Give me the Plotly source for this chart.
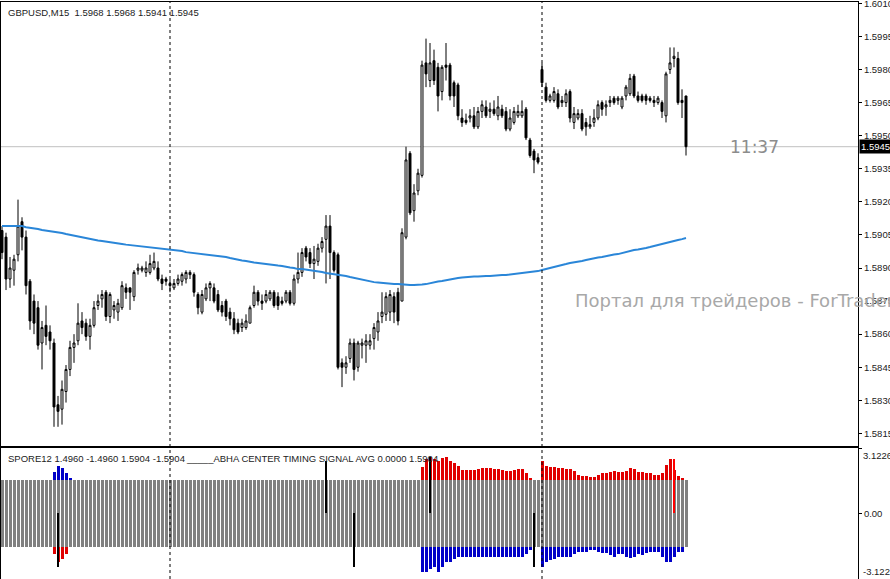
import plotly.graph_objects as go

# ---------------- data ----------------
symbol_header = "GBPUSD,M15  1.5968 1.5968 1.5941 1.5945"
sub_header_1 = "SPORE12 1.4960 -1.4960 1.5904 -1.5904"
sub_header_2 = "_____ABHA CENTER TIMING SIGNAL AVG 0.0000 1.5904"
watermark = "Портал для трейдеров - ForTrader.ru"
timer_text = "11:37"

opens = [
    1.5907, 1.5904, 1.5885, 1.5889, 1.5896, 1.5911, 1.5904, 1.5884, 1.5875, 1.5872,
    1.5856, 1.5864, 1.5861, 1.5856, 1.5828, 1.5826, 1.5834, 1.5844, 1.5854, 1.5857,
    1.5866, 1.5865, 1.5859, 1.5864, 1.5873, 1.5876, 1.5879, 1.5868, 1.5871, 1.5870,
    1.5872, 1.5881, 1.5881, 1.5877, 1.5889, 1.5889, 1.5888, 1.5888, 1.5890, 1.5890,
    1.5885, 1.5885, 1.5883, 1.5881, 1.5883, 1.5884, 1.5885, 1.5887, 1.5887, 1.5878,
    1.5870, 1.5876, 1.5881, 1.5881, 1.5878, 1.5873, 1.5875, 1.5870, 1.5867, 1.5865,
    1.5863, 1.5863, 1.5865, 1.5873, 1.5879, 1.5875, 1.5875, 1.5876, 1.5879, 1.5877,
    1.5875, 1.5875, 1.5879, 1.5874, 1.5885, 1.5888, 1.5899, 1.5897, 1.5892, 1.5893,
    1.5899, 1.5903, 1.5909, 1.5897, 1.5896, 1.5847, 1.5845, 1.5849, 1.5856, 1.5845,
    1.5855, 1.5855, 1.5855, 1.5858, 1.5861, 1.5868, 1.5869, 1.5870, 1.5877, 1.5879,
    1.5875, 1.5904, 1.5942, 1.5916, 1.5925, 1.5932, 1.5983, 1.5975, 1.5984, 1.5981,
    1.5970, 1.5982, 1.5982, 1.5974, 1.5973, 1.5958, 1.5957, 1.5958, 1.5959, 1.5954,
    1.5961, 1.5963, 1.5961, 1.5962, 1.5959, 1.5962, 1.5961, 1.5953, 1.5956, 1.5959,
    1.5959, 1.5962, 1.5948, 1.5943, 1.5940, 1.5980, 1.5972, 1.5966, 1.5966, 1.5969,
    1.5965, 1.5965, 1.5970, 1.5956, 1.5958, 1.5960, 1.5956, 1.5954, 1.5956, 1.5958,
    1.5965, 1.5963, 1.5965, 1.5967, 1.5966, 1.5963, 1.5968, 1.5969, 1.5977, 1.5968,
    1.5968, 1.5968, 1.5967, 1.5966, 1.5965, 1.5965, 1.5959, 1.5980, 1.5985, 1.5985,
    1.5966, 1.5968,
]
highs = [
    1.5909, 1.5906, 1.5895, 1.5896, 1.5921, 1.5913, 1.5907, 1.5885, 1.5878, 1.5875,
    1.5866, 1.5873, 1.5864, 1.5858, 1.5832, 1.5839, 1.5846, 1.5857, 1.5860, 1.5874,
    1.5870, 1.5867, 1.5867, 1.5875, 1.5878, 1.5880, 1.5880, 1.5879, 1.5875, 1.5876,
    1.5884, 1.5883, 1.5881, 1.5889, 1.5892, 1.5891, 1.5893, 1.5896, 1.5897, 1.5893,
    1.5887, 1.5886, 1.5885, 1.5885, 1.5887, 1.5888, 1.5889, 1.5889, 1.5888, 1.5879,
    1.5880, 1.5883, 1.5884, 1.5883, 1.5880, 1.5875, 1.5876, 1.5872, 1.5870, 1.5867,
    1.5867, 1.5869, 1.5873, 1.5882, 1.5880, 1.5878, 1.5880, 1.5880, 1.5880, 1.5879,
    1.5877, 1.5880, 1.5880, 1.5887, 1.5897, 1.5899, 1.5900, 1.5899, 1.5900, 1.5901,
    1.5904, 1.5914, 1.5914, 1.5898, 1.5897, 1.5849, 1.5850, 1.5858, 1.5858, 1.5857,
    1.5858, 1.5860, 1.5860, 1.5865, 1.5870, 1.5879, 1.5879, 1.5880, 1.5879, 1.5881,
    1.5908, 1.5945, 1.5943, 1.5928, 1.5935, 1.5984, 1.5994, 1.5992, 1.5989, 1.5983,
    1.5982, 1.5992, 1.5983, 1.5975, 1.5974, 1.5962, 1.5960, 1.5962, 1.5963, 1.5963,
    1.5966, 1.5966, 1.5965, 1.5966, 1.5968, 1.5964, 1.5963, 1.5962, 1.5963, 1.5964,
    1.5966, 1.5963, 1.5949, 1.5944, 1.5942, 1.5983, 1.5974, 1.5969, 1.5972, 1.5971,
    1.5968, 1.5971, 1.5971, 1.5963, 1.5962, 1.5962, 1.5958, 1.5959, 1.5962, 1.5966,
    1.5966, 1.5966, 1.5968, 1.5968, 1.5968, 1.5968, 1.5973, 1.5978, 1.5978, 1.5970,
    1.5969, 1.5969, 1.5968, 1.5968, 1.5968, 1.5966, 1.5979, 1.5990, 1.5990, 1.5988,
    1.5971, 1.5968,
]
lows = [
    1.5894, 1.5880, 1.5881, 1.5882, 1.5893, 1.5898, 1.5878, 1.5862, 1.5860, 1.5853,
    1.5844, 1.5855, 1.5853, 1.5818, 1.5818, 1.5819, 1.5829, 1.5841, 1.5847, 1.5855,
    1.5860, 1.5857, 1.5853, 1.5863, 1.5871, 1.5872, 1.5866, 1.5865, 1.5867, 1.5866,
    1.5871, 1.5876, 1.5871, 1.5875, 1.5887, 1.5888, 1.5886, 1.5887, 1.5889, 1.5884,
    1.5880, 1.5882, 1.5879, 1.5880, 1.5882, 1.5882, 1.5883, 1.5885, 1.5877, 1.5869,
    1.5869, 1.5875, 1.5875, 1.5874, 1.5870, 1.5868, 1.5866, 1.5864, 1.5860, 1.5860,
    1.5861, 1.5862, 1.5865, 1.5872, 1.5873, 1.5871, 1.5874, 1.5875, 1.5872, 1.5871,
    1.5873, 1.5874, 1.5873, 1.5873, 1.5883, 1.5886, 1.5893, 1.5890, 1.5885, 1.5891,
    1.5897, 1.5883, 1.5885, 1.5888, 1.5844, 1.5836, 1.5842, 1.5847, 1.5839, 1.5843,
    1.5849, 1.5847, 1.5853, 1.5853, 1.5857, 1.5865, 1.5866, 1.5866, 1.5865, 1.5864,
    1.5875, 1.5903, 1.5914, 1.5911, 1.5923, 1.5931, 1.5972, 1.5972, 1.5973, 1.5961,
    1.5966, 1.5975, 1.5966, 1.5963, 1.5957, 1.5954, 1.5955, 1.5956, 1.5953, 1.5953,
    1.5958, 1.5958, 1.5958, 1.5959, 1.5957, 1.5958, 1.5952, 1.5952, 1.5955, 1.5958,
    1.5958, 1.5948, 1.5940, 1.5933, 1.5937, 1.5972, 1.5965, 1.5965, 1.5965, 1.5962,
    1.5963, 1.5963, 1.5956, 1.5953, 1.5957, 1.5952, 1.5950, 1.5953, 1.5954, 1.5957,
    1.5959, 1.5959, 1.5963, 1.5964, 1.5964, 1.5962, 1.5966, 1.5968, 1.5967, 1.5965,
    1.5965, 1.5964, 1.5965, 1.5963, 1.5964, 1.5958, 1.5956, 1.5978, 1.5981, 1.5964,
    1.5958, 1.5941,
]
closes = [
    1.5897, 1.5885, 1.5890, 1.5894, 1.5909, 1.5904, 1.5882, 1.5866, 1.5865, 1.5855,
    1.5863, 1.5859, 1.5857, 1.5827, 1.5825, 1.5835, 1.5844, 1.5854, 1.5856, 1.5865,
    1.5863, 1.5859, 1.5864, 1.5872, 1.5875, 1.5878, 1.5868, 1.5878, 1.5873, 1.5874,
    1.5882, 1.5879, 1.5879, 1.5888, 1.5890, 1.5890, 1.5890, 1.5892, 1.5893, 1.5885,
    1.5883, 1.5884, 1.5882, 1.5883, 1.5885, 1.5887, 1.5888, 1.5888, 1.5879, 1.5872,
    1.5878, 1.5881, 1.5883, 1.5875, 1.5871, 1.5870, 1.5868, 1.5867, 1.5862, 1.5861,
    1.5865, 1.5866, 1.5872, 1.5879, 1.5875, 1.5874, 1.5878, 1.5879, 1.5873, 1.5873,
    1.5874, 1.5879, 1.5874, 1.5885, 1.5888, 1.5897, 1.5895, 1.5892, 1.5894, 1.5899,
    1.5902, 1.5909, 1.5897, 1.5889, 1.5845, 1.5845, 1.5847, 1.5856, 1.5844, 1.5856,
    1.5856, 1.5857, 1.5857, 1.5863, 1.5866, 1.5870, 1.5877, 1.5878, 1.5870, 1.5866,
    1.5906, 1.5939, 1.5915, 1.5924, 1.5933, 1.5982, 1.5978, 1.5983, 1.5975, 1.5968,
    1.5981, 1.5981, 1.5968, 1.5968, 1.5959, 1.5956, 1.5956, 1.5959, 1.5954, 1.5961,
    1.5964, 1.5959, 1.5962, 1.5960, 1.5963, 1.5959, 1.5953, 1.5958, 1.5961, 1.5961,
    1.5961, 1.5949, 1.5941, 1.5939, 1.5938, 1.5974, 1.5966, 1.5968, 1.5970, 1.5963,
    1.5966, 1.5969, 1.5958, 1.5960, 1.5960, 1.5953, 1.5954, 1.5955, 1.5958, 1.5964,
    1.5962, 1.5964, 1.5966, 1.5965, 1.5967, 1.5967, 1.5972, 1.5976, 1.5968, 1.5966,
    1.5966, 1.5966, 1.5966, 1.5965, 1.5967, 1.5961, 1.5978, 1.5983, 1.5986, 1.5965,
    1.5965, 1.5945,
]
ma_values = [
    1.59090, 1.59090, 1.59090, 1.59090, 1.59090, 1.59090, 1.59085, 1.59083, 1.59081, 1.59077,
    1.59072, 1.59070, 1.59068, 1.59063, 1.59061, 1.59059, 1.59054, 1.59050, 1.59047, 1.59045,
    1.59041, 1.59036, 1.59031, 1.59027, 1.59025, 1.59022, 1.59020, 1.59018, 1.59015, 1.59013,
    1.59009, 1.59006, 1.59004, 1.59004, 1.59002, 1.59000, 1.58997, 1.58995, 1.58993, 1.58991,
    1.58988, 1.58986, 1.58986, 1.58982, 1.58979, 1.58977, 1.58972, 1.58970, 1.58968, 1.58966,
    1.58963, 1.58963, 1.58961, 1.58959, 1.58954, 1.58952, 1.58950, 1.58945, 1.58941, 1.58936,
    1.58934, 1.58932, 1.58927, 1.58925, 1.58923, 1.58920, 1.58918, 1.58916, 1.58914, 1.58911,
    1.58909, 1.58904, 1.58902, 1.58900, 1.58895, 1.58895, 1.58893, 1.58891, 1.58886, 1.58884,
    1.58882, 1.58877, 1.58875, 1.58873, 1.58868, 1.58866, 1.58864, 1.58859, 1.58855, 1.58850,
    1.58845, 1.58841, 1.58839, 1.58836, 1.58834, 1.58832, 1.58830, 1.58827, 1.58827, 1.58827,
    1.58825, 1.58823, 1.58823, 1.58823, 1.58823, 1.58825, 1.58827, 1.58832, 1.58836, 1.58839,
    1.58841, 1.58845, 1.58850, 1.58852, 1.58855, 1.58857, 1.58859, 1.58859, 1.58861, 1.58861,
    1.58864, 1.58864, 1.58864, 1.58866, 1.58866, 1.58868, 1.58868, 1.58870, 1.58873, 1.58873,
    1.58875, 1.58877, 1.58882, 1.58884, 1.58886, 1.58891, 1.58895, 1.58900, 1.58904, 1.58909,
    1.58914, 1.58918, 1.58923, 1.58925, 1.58927, 1.58932, 1.58936, 1.58941, 1.58945, 1.58948,
    1.58950, 1.58954, 1.58959, 1.58961, 1.58963, 1.58968, 1.58972, 1.58977, 1.58982, 1.58984,
    1.58986, 1.58991, 1.58995, 1.59000, 1.59004, 1.59009, 1.59013, 1.59018, 1.59022, 1.59027,
    1.59031, 1.59036,
]
day_separators = [42, 135]
price_ticks = [1.6010, 1.5995, 1.5980, 1.5965, 1.5950, 1.5935, 1.5920, 1.5905,
               1.5890, 1.5875, 1.5860, 1.5845, 1.5830, 1.5815]
price_range = [1.58093, 1.60106]

# SPORE12 sub-window buffers
sub_limit = 3.1226
gray_level = 1.5904
bull_start = 105
bull_up = [2.21, 2.59, 2.69, 2.59, 2.50, 2.64, 2.69, 2.50, 2.40, 2.26,
           2.07, 2.07, 2.07, 2.07, 2.11, 2.16, 2.16, 2.16, 2.11, 2.11,
           2.07, 2.02, 2.02, 2.07, 2.11, 2.11, 1.92, 1.68, None, None,
           2.50, 2.26, 2.21, 2.21, 2.16, 2.16, 2.11, 2.11, 2.02, 1.83,
           1.78, 1.78, 1.73, 1.73, 1.83, 1.92, 1.92, 1.97, 2.02, 1.97,
           1.97, 2.02, 2.16, 2.11, 1.97, 1.97, 1.92, 1.92, 1.83, 1.83,
           1.92, 2.31, 2.59, 2.07, 1.78, 1.68, 1.4960]
bull_dn = [-2.83, -2.83, -2.69, -2.59, -2.79, -2.55, -2.35, -2.31, -2.21, -2.11,
           -2.11, -2.07, -2.07, -2.11, -2.11, -2.07, -2.11, -2.11, -2.11, -2.11,
           -2.11, -2.11, -2.11, -2.07, -2.07, -2.07, -1.97, -1.78, None, None,
           -2.55, -2.31, -2.26, -2.21, -2.11, -2.11, -2.07, -2.07, -1.97, -1.87,
           -1.83, -1.83, -1.78, -1.78, -1.87, -1.92, -1.92, -2.02, -2.07, -1.97,
           -1.97, -2.07, -2.16, -2.11, -1.97, -2.02, -1.92, -1.87, -1.87, -1.83,
           -2.07, -2.31, -2.35, -2.11, -1.83, -1.83, -1.4960]
bear_start = 13
bear_up = [1.97, 2.26, 2.16, 1.92, 1.68]
bear_dn = [-1.97, -2.31, -2.21, -1.97, -1.63]
signal_idx = [14, 81, 88, 107, 133]
signal_val = [-2.59, 2.50, -2.55, 2.69, -2.59]
live_signal_idx = [168]
live_signal_val = [2.59]

# ---------------- figure ----------------
N = len(closes)
idx = list(range(N))
bull_x = list(range(bull_start, bull_start + len(bull_up)))
bear_x = list(range(bear_start, bear_start + len(bear_up)))

RED = "#e00000"
BLUE = "#0000c8"
GRAY = "#808080"
AXFONT = dict(family="Liberation Sans, Arial, sans-serif", size=9.5, color="#222222")

fig = go.Figure()
fig.add_trace(go.Candlestick(
    x=idx, open=opens, high=highs, low=lows, close=closes,
    xaxis="x", yaxis="y", whiskerwidth=0,
    increasing=dict(line=dict(color="black", width=1), fillcolor="white"),
    decreasing=dict(line=dict(color="black", width=1), fillcolor="black"),
    showlegend=False, hoverinfo="skip"))
fig.add_trace(go.Scatter(x=idx, y=ma_values, mode="lines", xaxis="x", yaxis="y",
                         line=dict(color="#2a86d8", width=2), hoverinfo="skip"))

bar_w = 0.75
fig.add_trace(go.Bar(x=bull_x, y=bull_up, marker=dict(color=RED, line=dict(width=0)),
                     width=bar_w, xaxis="x2", yaxis="y2"))
fig.add_trace(go.Bar(x=bull_x, y=bull_dn, marker=dict(color=BLUE, line=dict(width=0)),
                     width=bar_w, xaxis="x2", yaxis="y2"))
fig.add_trace(go.Bar(x=bear_x, y=bear_up, marker=dict(color=BLUE, line=dict(width=0)),
                     width=bar_w, xaxis="x2", yaxis="y2"))
fig.add_trace(go.Bar(x=bear_x, y=bear_dn, marker=dict(color=RED, line=dict(width=0)),
                     width=bar_w, xaxis="x2", yaxis="y2"))
fig.add_trace(go.Bar(x=idx, y=[gray_level] * N, marker=dict(color=GRAY, line=dict(width=0)),
                     width=bar_w, xaxis="x2", yaxis="y2"))
fig.add_trace(go.Bar(x=idx, y=[-gray_level] * N, marker=dict(color=GRAY, line=dict(width=0)),
                     width=bar_w, xaxis="x2", yaxis="y2"))
fig.add_trace(go.Bar(x=signal_idx, y=signal_val, marker=dict(color="black", line=dict(width=0)),
                     width=0.25, xaxis="x2", yaxis="y2"))
fig.add_trace(go.Bar(x=live_signal_idx, y=live_signal_val, marker=dict(color="#ff0000", line=dict(width=0)),
                     width=0.7, xaxis="x2", yaxis="y2"))

x_range = [-0.25, 214]
common_x = dict(range=x_range, showticklabels=False, showgrid=False, zeroline=False,
                showline=True, mirror=True, linecolor="black", linewidth=1, ticks="",
                fixedrange=True, automargin=False)
common_y = dict(side="right", ticks="outside", ticklen=3, tickcolor="black", tickfont=AXFONT,
                showgrid=False, zeroline=False, showline=True, mirror=True,
                linecolor="black", linewidth=1, fixedrange=True, automargin=False,
                ticklabeloverflow="allow")
fig.update_layout(
    width=890, height=579,
    margin=dict(l=1, r=32, t=2, b=0, autoexpand=False),
    paper_bgcolor="white", plot_bgcolor="white",
    showlegend=False, barmode="overlay", bargap=0,
    xaxis=dict(domain=[0, 1], anchor="y", rangeslider=dict(visible=False), **common_x),
    xaxis2=dict(domain=[0, 1], anchor="y2", matches="x", **common_x),
    yaxis=dict(domain=[0.2305, 1], anchor="x", range=price_range,
               tickvals=price_ticks, ticktext=[f"{v:.4f}" for v in price_ticks], **common_y),
    yaxis2=dict(domain=[0, 0.2262], anchor="x2", range=[-sub_limit, sub_limit],
                tickvals=[sub_limit, 0, -sub_limit], ticktext=["", "0.00", ""], **common_y),
)

shapes = []
for s in day_separators:
    shapes.append(dict(type="line", xref="x", yref="paper", x0=s, x1=s, y0=0, y1=1,
                       line=dict(color="black", width=1, dash="3px,3px"), layer="above"))
shapes.append(dict(type="line", xref="x domain", yref="y", x0=0, x1=1,
                   y0=closes[-1], y1=closes[-1], line=dict(color="#c0c0c0", width=1),
                   layer="below"))
fig.update_layout(shapes=shapes)

annotations = [
    dict(text=symbol_header, xref="paper", yref="paper", x=0, y=1, xanchor="left",
         yanchor="top", xshift=5, yshift=-3, showarrow=False, font=AXFONT),
    dict(text=sub_header_1, xref="paper", yref="y2 domain", x=0, y=1, xanchor="left",
         yanchor="top", xshift=5, yshift=-3, showarrow=False, font=AXFONT),
    dict(text=sub_header_2, xref="paper", yref="y2 domain", x=0.2135, y=1, xanchor="left",
         yanchor="top", yshift=-3, showarrow=False, font=AXFONT),
    dict(text=watermark, xref="paper", yref="paper", x=0.6674, y=0.4835, xanchor="left",
         yanchor="middle", showarrow=False,
         font=dict(family="DejaVu Sans, Verdana, sans-serif", size=18, color="#a8a8a8")),
    dict(text=timer_text, xref="paper", yref="y", x=0.8798, y=closes[-1], xanchor="center",
         yanchor="middle", showarrow=False,
         font=dict(family="DejaVu Sans, Verdana, sans-serif", size=17, color="#8c8c8c")),
    dict(text=f"{closes[-1]:.4f}", xref="paper", yref="y", x=1, y=closes[-1], xanchor="left",
         yanchor="middle", xshift=1, showarrow=False, bgcolor="black", borderpad=1,
         font=dict(family="Liberation Sans, Arial, sans-serif", size=9.5, color="white")),
    dict(text=f"{sub_limit:.4f}", xref="paper", yref="y2", x=1, y=sub_limit, xanchor="left",
         yanchor="top", xshift=3, showarrow=False, font=AXFONT),
    dict(text=f"{-sub_limit:.4f}", xref="paper", yref="y2", x=1, y=-sub_limit, xanchor="left",
         yanchor="bottom", xshift=3, showarrow=False, font=AXFONT),
]
fig.update_layout(annotations=annotations)

fig.write_html("out.html", config={"displayModeBar": False},
               post_script="document.body.style.margin='0';document.body.style.overflow='hidden';")
